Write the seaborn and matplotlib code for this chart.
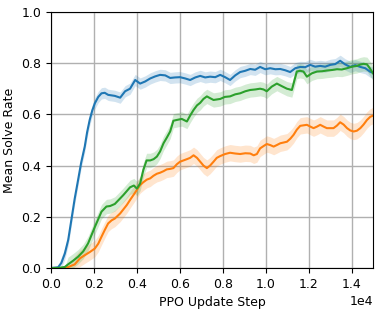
import numpy as np
import matplotlib
matplotlib.use("Agg")
import matplotlib.pyplot as plt
import seaborn as sns


# -----------------------------
# Data
# -----------------------------
blue_steps = [0, 330, 480, 640, 800, 950, 1100, 1260, 1400, 1570, 1680, 1800, 1920,
              2040, 2200, 2350, 2500, 2660, 2970, 3220, 3450,
              3680, 3920, 4150, 4380, 4620, 4850, 5080, 5320, 5550, 5780, 6010, 6250,
              6480, 6720, 6950, 7180, 7410, 7650, 7880, 8110, 8340, 8580, 8810, 9050,
              9280, 9510, 9740, 9980, 10210, 10450, 10680, 10910, 11140, 11380, 11610,
              11840, 12070, 12310, 12540, 12770, 13010, 13240, 13470, 13700, 13940,
              14170, 14410, 14640, 14870, 15000]
blue_vals = [0.0, 0.003, 0.02, 0.056, 0.11, 0.19, 0.27, 0.344, 0.41, 0.474, 0.53, 0.578,
             0.615, 0.643, 0.668, 0.682, 0.684, 0.676, 0.672,
             0.665, 0.69, 0.70, 0.734, 0.72, 0.728, 0.74, 0.748, 0.754, 0.752, 0.742,
             0.744, 0.745, 0.74, 0.734, 0.744, 0.75, 0.744, 0.747, 0.745, 0.754, 0.745,
             0.734, 0.752, 0.765, 0.77, 0.777, 0.774, 0.785, 0.776, 0.78, 0.776, 0.777,
             0.772, 0.765, 0.78, 0.785, 0.784, 0.793, 0.786, 0.789, 0.786, 0.793, 0.796,
             0.809, 0.795, 0.785, 0.792, 0.785, 0.78, 0.766, 0.762]

green_steps = [0, 330, 640, 790, 1020, 1260, 1500, 1725, 2040, 2350, 2580, 2750, 2970,
               3200, 3370, 3680, 3860, 4000, 4150, 4300, 4450, 4620, 4780, 4930, 5080,
               5240, 5400, 5550, 5700, 5860, 6090, 6330, 6480, 6640, 6800, 6950, 7100,
               7260, 7410, 7570, 7880, 8100, 8340, 8580, 8810, 9050, 9280, 9510, 9740,
               9900, 10050, 10280, 10520, 10750, 10990, 11220, 11450, 11600, 11760,
               11920, 12150, 12390, 12620, 12850, 13090, 13320, 13550, 13790, 14020,
               14250, 14400, 14560, 14720, 14850, 15000]
green_vals = [0.0, 0.0, 0.004, 0.014, 0.028, 0.044, 0.065, 0.096, 0.16, 0.22, 0.24,
              0.242, 0.25, 0.27, 0.285, 0.315, 0.322, 0.31, 0.33, 0.383, 0.42, 0.42,
              0.425, 0.435, 0.455, 0.487, 0.51, 0.533, 0.575, 0.578, 0.582, 0.572, 0.595,
              0.617, 0.635, 0.645, 0.66, 0.67, 0.663, 0.656, 0.66, 0.668, 0.67, 0.678,
              0.682, 0.69, 0.695, 0.697, 0.70, 0.697, 0.69, 0.708, 0.72, 0.71, 0.70,
              0.695, 0.767, 0.77, 0.767, 0.747, 0.76, 0.767, 0.768, 0.771, 0.773, 0.776,
              0.775, 0.78, 0.786, 0.789, 0.794, 0.797, 0.795, 0.78, 0.76]

orange_steps = [0, 500, 800, 1100, 1350, 1570, 1800, 2040, 2200, 2350, 2500, 2660, 2820,
                2970, 3220, 3380, 3530, 3700, 3840, 4000, 4150, 4300, 4460, 4620, 4770,
                4930, 5080, 5240, 5390, 5550, 5700, 5860, 6010, 6170, 6330, 6480, 6640,
                6800, 6950, 7100, 7260, 7410, 7570, 7720, 7880, 8110, 8340, 8580, 8810,
                9050, 9280, 9440, 9590, 9740, 9900, 10050, 10210, 10370, 10520, 10680,
                10840, 10990, 11150, 11300, 11450, 11610, 11760, 11920, 12080, 12230,
                12390, 12540, 12700, 12850, 13000, 13160, 13320, 13470, 13630, 13790,
                13940, 14100, 14250, 14410, 14560, 14720, 14870, 15000]
orange_vals = [0.0, 0.0, 0.004, 0.014, 0.038, 0.05, 0.062, 0.076, 0.095, 0.122, 0.148,
               0.174, 0.186, 0.193, 0.213, 0.23, 0.246, 0.268, 0.285, 0.305, 0.324,
               0.335, 0.345, 0.35, 0.36, 0.368, 0.372, 0.378, 0.385, 0.387, 0.39, 0.405,
               0.415, 0.42, 0.425, 0.43, 0.44, 0.43, 0.415, 0.40, 0.39, 0.40, 0.415,
               0.43, 0.437, 0.445, 0.45, 0.447, 0.445, 0.448, 0.447, 0.44, 0.445, 0.467,
               0.476, 0.484, 0.48, 0.474, 0.48, 0.487, 0.49, 0.493, 0.505, 0.52, 0.54,
               0.555, 0.557, 0.559, 0.552, 0.546, 0.552, 0.559, 0.552, 0.546, 0.546,
               0.546, 0.556, 0.569, 0.56, 0.546, 0.537, 0.533, 0.536, 0.546, 0.56, 0.578,
               0.59, 0.595]

# half-width of the shaded band for each run
band_blue = 0.022
band_green = 0.028
band_orange = 0.032


# -----------------------------
# Plot
# -----------------------------
fig, ax = plt.subplots(figsize=(3.81, 3.12), dpi=100)
fig.subplots_adjust(left=0.134, right=0.979, top=0.962, bottom=0.141)

runs = [
    (blue_steps, blue_vals, band_blue, "tab:blue"),
    (orange_steps, orange_vals, band_orange, "tab:orange"),
    (green_steps, green_vals, band_green, "tab:green"),
]

for steps, vals, band, color in runs:
    steps = np.array(steps)
    vals = np.array(vals)
    lo = np.clip(vals - band * (vals > 0.01), 0, 1)
    hi = vals + band * (vals > 0.01)
    ax.fill_between(steps, lo, hi, color=color, alpha=0.2, linewidth=0)
    sns.lineplot(x=steps, y=vals, ax=ax, color=color, linewidth=1.5)

ax.set_xlim(0, 15000)
ax.set_ylim(0, 1.0)
ax.set_xticks(np.arange(0, 15000, 2000))
ax.set_yticks(np.arange(0, 1.01, 0.2))
ax.ticklabel_format(axis="x", style="sci", scilimits=(4, 4))
ax.grid(True, color="#b0b0b0", linewidth=1)
ax.set_axisbelow(True)

ax.set_xlabel("PPO Update Step", fontsize=9)
ax.set_ylabel("Mean Solve Rate", fontsize=9)
ax.tick_params(labelsize=9)
ax.xaxis.get_offset_text().set_fontsize(9)

fig.savefig("out.png", dpi=100)
